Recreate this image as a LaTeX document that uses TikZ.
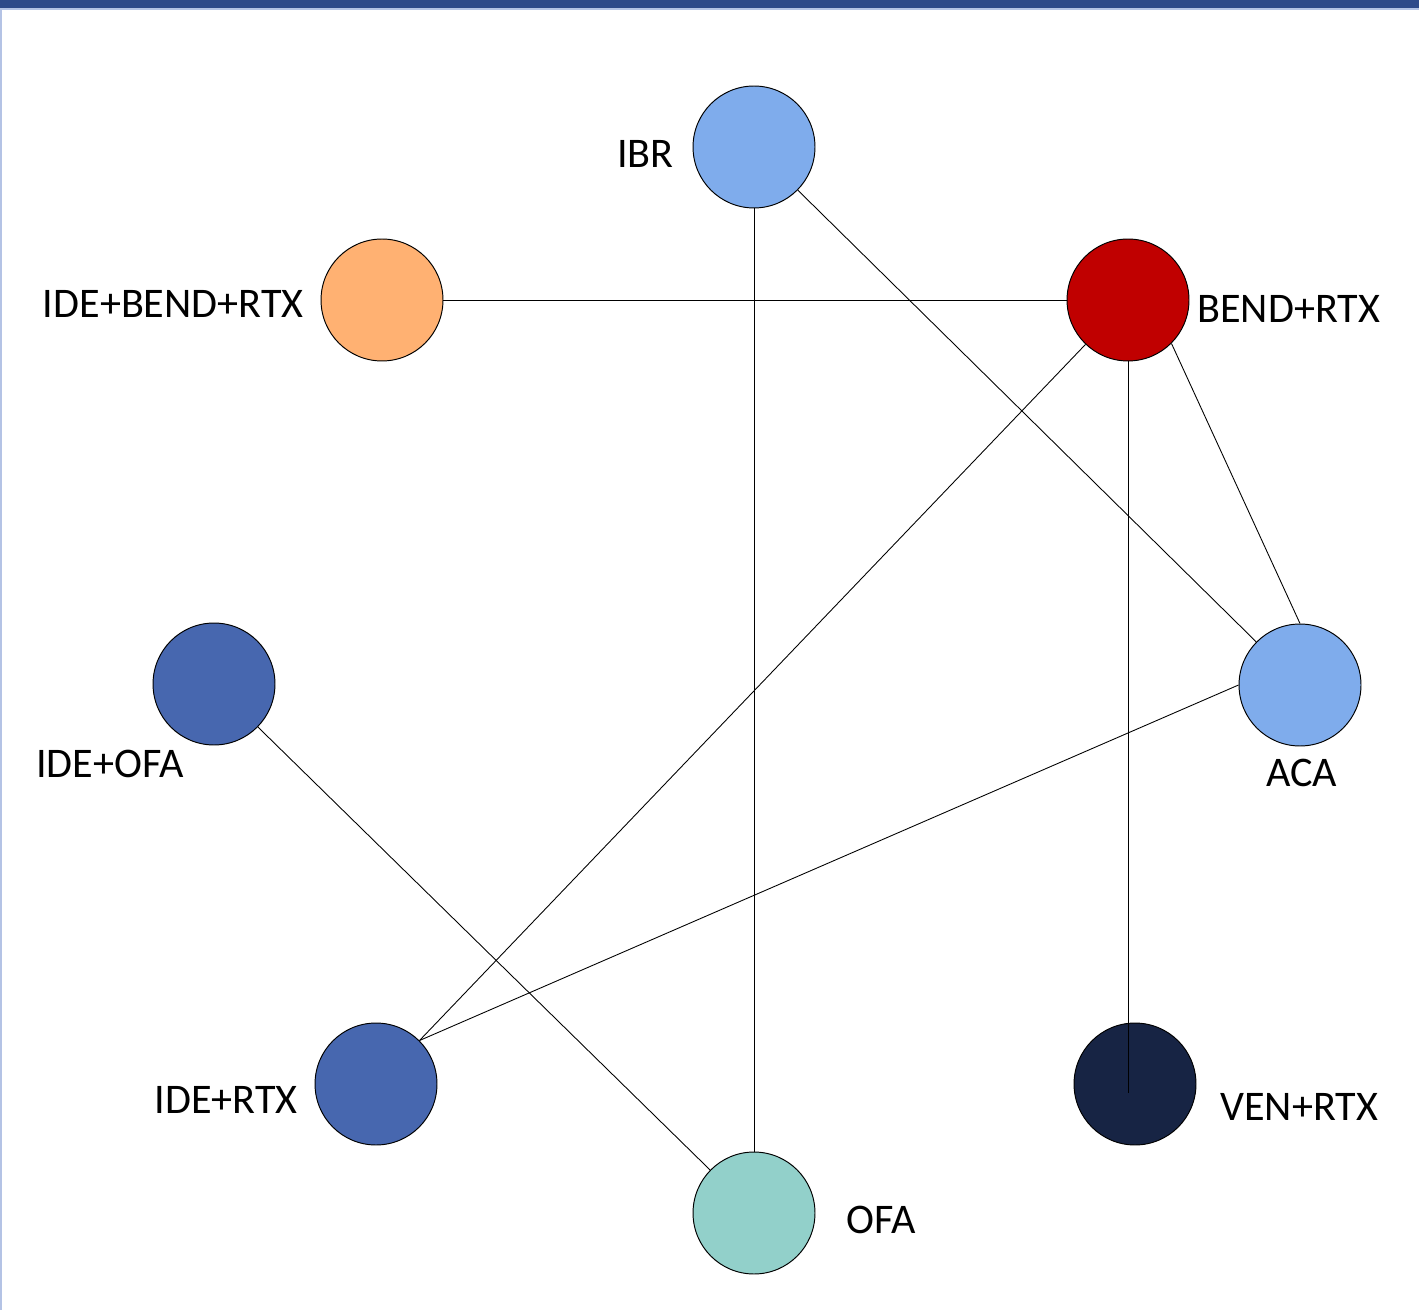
\documentclass[tikz,border=0pt]{standalone}
\usepackage{fontspec}
\setmainfont{Carlito}
\usepackage{xcolor}

\definecolor{barblue}{HTML}{2E4A8A}
\definecolor{edgeblue}{HTML}{B4C3E5}
\definecolor{lightblue}{HTML}{7FACEC}
\definecolor{midblue}{HTML}{4767AF}
\definecolor{navy}{HTML}{172444}
\definecolor{peach}{HTML}{FFB172}
\definecolor{darkred}{HTML}{C00000}
\definecolor{teal}{HTML}{92D0CA}

\begin{document}
\begin{tikzpicture}[x=0.02cm, y=-0.02cm,
  % Node Styles
  tnode/.style={circle, draw, line width=0.55pt, minimum size=2.44cm, inner sep=0pt},
  tlabel/.style={inner sep=0pt, text=black, font=\fontsize{24}{28}\selectfont},
  % Line Styles
  link/.style={line width=0.5pt, black}
]
\useasboundingbox (0,0) rectangle (1419,1310);

% Frame
\fill[barblue] (0,0) rectangle (1419,8);
\fill[edgeblue] (0,8) rectangle (1419,10);
\fill[edgeblue] (0,10) rectangle (2,1310);

% Treatments

\node[tnode, fill=lightblue] (N_IBR) at (754,147) {};
\node[tnode, fill=peach] (N_IDEBENDRTX) at (382,300) {};
\node[tnode, fill=darkred] (N_BENDRTX) at (1128,300) {};
\node[tnode, fill=midblue] (N_IDEOFA) at (214,684) {};
\node[tnode, fill=lightblue] (N_ACA) at (1300,685) {};
\node[tnode, fill=midblue] (N_IDERTX) at (376,1084) {};
\node[tnode, fill=navy] (N_VENRTX) at (1135,1084) {};
\node[tnode, fill=teal] (N_OFA) at (754,1213) {};
\coordinate (C_VENRTX) at (1128,1093);

\node[tlabel, anchor=base east] (L_IBR) at (674,168) {IBR};
\node[tlabel, anchor=base east] (L_IDEBENDRTX) at (304,318) {IDE+BEND+RTX};
\node[tlabel, anchor=base west] (L_BENDRTX) at (1197,323) {BEND+RTX};
\node[tlabel, anchor=base west] (L_IDEOFA) at (36,777) {IDE+OFA};
\node[tlabel, anchor=base west] (L_ACA) at (1266,786) {ACA};
\node[tlabel, anchor=base east] (L_IDERTX) at (298,1113) {IDE+RTX};
\node[tlabel, anchor=base west] (L_VENRTX) at (1220,1120) {VEN+RTX};
\node[tlabel, anchor=base west] (L_OFA) at (846,1233) {OFA};

\draw[link] (N_IBR) -- (N_OFA);
\draw[link] (N_IBR) -- (N_ACA);
\draw[link] (N_IDEBENDRTX) -- (N_BENDRTX);
\draw[link] (N_BENDRTX) -- (N_IDERTX.45);
\draw[link] (N_BENDRTX.-45) -- (N_ACA.north);
\draw[link] (N_BENDRTX) -- (C_VENRTX);
\draw[link] (N_ACA.west) -- (N_IDERTX.45);
\draw[link] (N_IDEOFA) -- (N_OFA);

\end{tikzpicture}
\end{document}
